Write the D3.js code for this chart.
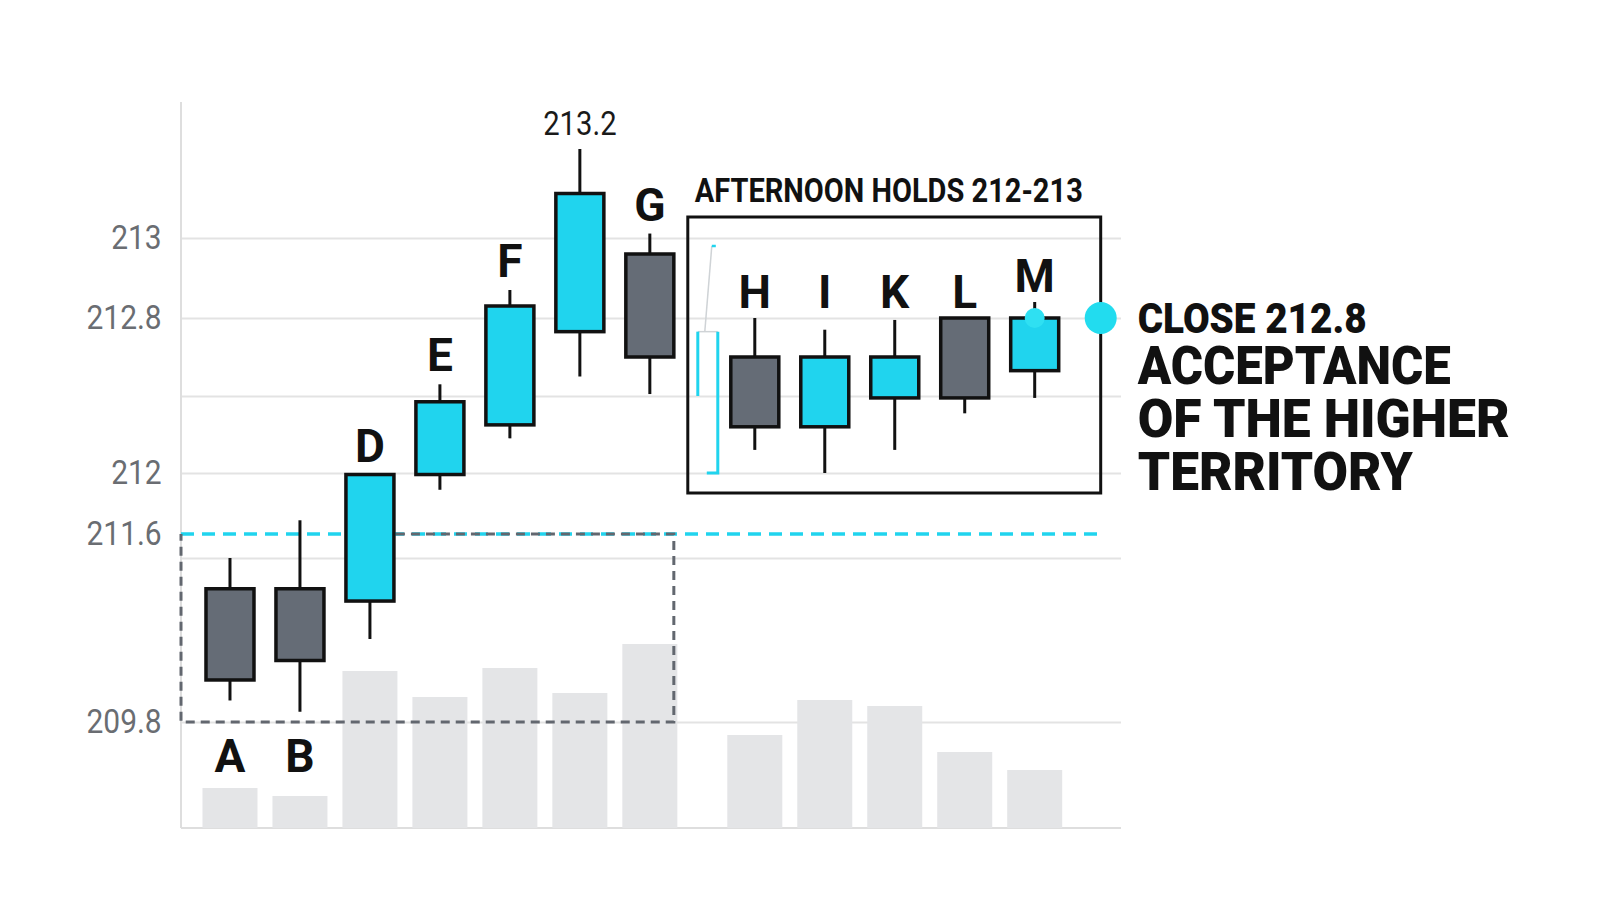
<!DOCTYPE html>
<html>
<head>
<meta charset="utf-8">
<script src="https://cdn.jsdelivr.net/npm/d3@7"></script>
<style>
  body { margin: 0; background: #fff; }
  text { font-family: Roboto, "Noto Sans", sans-serif; }
</style>
</head>
<body>
<svg id="chart" width="1600" height="914"></svg>
<script>
// candle data (minutes from open, OHLC, volume)
const labels = ["A", "B", "D", "E", "F", "", "G", "H", "I", "K", "L", "M"];
const times = [0, 30, 60, 90, 120, 150, 180, 225, 255, 285, 315, 345];
const opens = [211.10, 211.10, 210.98, 211.99, 212.25, 212.73, 212.96, 212.60, 212.24, 212.39, 212.80, 212.53];
const highs = [211.40, 211.69, 211.99, 212.46, 212.87, 213.20, 213.01, 212.80, 212.74, 212.79, 212.80, 212.84];
const lows = [210.01, 209.90, 210.61, 211.89, 212.18, 212.50, 212.41, 212.12, 212.00, 212.12, 212.31, 212.39];
const closes = [210.21, 210.40, 211.99, 212.37, 212.83, 213.10, 212.60, 212.24, 212.60, 212.60, 212.39, 212.80];
const volumes = [200, 160, 785, 655, 800, 675, 920, 465, 640, 610, 380, 290];

const priceTicks = [209.8, 211.6, 212, 212.8, 213];
const gridTicks = [209.8, 211.4, 212, 212.4, 212.8, 213];
const morningRange = [209.8, 211.6];
const afternoonRange = [212, 213];
const acceptLevel = 211.6;
const lastClose = 212.8;
const bracketLevels = [212.0, 212.4, 212.73, 212.98];
const title = "AFTERNOON HOLDS 212-213";
const noteLines = ["CLOSE 212.8", "ACCEPTANCE", "OF THE HIGHER", "TERRITORY"];

const CYAN = "#20d4ee";
const GRAY = "#656c76";
const plotLeft = 181, plotRight = 1121, plotBottom = 828, plotTop = 102;

const svg = d3.select("#chart");

const x = d3.scaleLinear().domain([-21, 382]).range([plotLeft, plotRight]);
// the picture's price axis is not evenly spaced, so the scale is piecewise
const y = d3.scaleLinear()
  .domain([209.8, 211.4, 211.6, 212, 212.4, 212.8, 213, 213.2])
  .range([722, 558, 534, 473, 396, 318, 238, 149]);
const yVol = d3.scaleLinear().domain([0, 1000]).range([plotBottom, plotBottom - 200]);

const candles = labels.map((label, i) => ({
  label, time: times[i], open: opens[i], high: highs[i], low: lows[i], close: closes[i], volume: volumes[i]
}));
const afternoon = candles.filter((d) => d.time > 200);

// grid
svg.append("g")
  .attr("transform", `translate(${plotLeft},0)`)
  .call(d3.axisLeft(y).tickValues(gridTicks).tickSize(-(plotRight - plotLeft)).tickFormat(""))
  .call((g) => g.select(".domain").remove())
  .call((g) => g.selectAll("line").attr("stroke", "#e3e3e3").attr("stroke-width", 2));

svg.append("line").attr("x1", plotLeft).attr("x2", plotLeft).attr("y1", plotTop).attr("y2", plotBottom)
  .attr("stroke", "#dedede").attr("stroke-width", 2);
svg.append("line").attr("x1", plotLeft).attr("x2", plotRight).attr("y1", plotBottom).attr("y2", plotBottom)
  .attr("stroke", "#dedede").attr("stroke-width", 2);

// price labels
svg.append("g")
  .attr("transform", `translate(${plotLeft},0)`)
  .call(d3.axisLeft(y).tickValues(priceTicks).tickSize(0).tickPadding(22).tickFormat(d3.format("")))
  .call((g) => g.select(".domain").remove())
  .call((g) => g.selectAll("text")
    .attr("font-size", 34)
    .attr("font-family", "Roboto, sans-serif")
    .attr("fill", "#6a6d72")
    .attr("transform", "scale(0.88,1)"));

// volume
svg.append("g").selectAll("rect")
  .data(candles)
  .join("rect")
  .attr("x", (d) => x(d.time) - 27.5)
  .attr("width", 55)
  .attr("y", (d) => yVol(d.volume))
  .attr("height", (d) => plotBottom - yVol(d.volume))
  .attr("fill", "#e4e5e7");

// acceptance line and morning range
const boxLeft = x(afternoon[0].time) - 67;
const boxRight = x(afternoon[afternoon.length - 1].time) + 66;
const boxTop = y(afternoonRange[1]) - 21;
const boxBottom = y(afternoonRange[0]) + 20;

svg.append("line")
  .attr("x1", plotLeft).attr("x2", boxRight + 4)
  .attr("y1", y(acceptLevel)).attr("y2", y(acceptLevel))
  .attr("stroke", CYAN).attr("stroke-width", 3.5).attr("stroke-dasharray", "13,8");

const rangeRight = x(times[6]) + 24;
const rangeTopStart = x(times[2]) + 26;
svg.append("path")
  .attr("d", `M${rangeTopStart},${y(morningRange[1])}H${rangeRight}V${y(morningRange[0])}H${plotLeft}V${y(morningRange[1])}`)
  .attr("fill", "none")
  .attr("stroke", "#62676f")
  .attr("stroke-width", 3)
  .attr("stroke-dasharray", "9,6");

// afternoon box
svg.append("rect")
  .attr("x", boxLeft).attr("y", boxTop)
  .attr("width", boxRight - boxLeft).attr("height", boxBottom - boxTop)
  .attr("fill", "none").attr("stroke", "#111").attr("stroke-width", 3);

svg.append("text")
  .attr("x", boxLeft + 7).attr("y", boxTop - 15)
  .attr("font-size", 33).attr("font-weight", 700).attr("fill", "#111")
  .attr("textLength", 388).attr("lengthAdjust", "spacingAndGlyphs")
  .text(title);

// small range bracket at the left of the box
const bx = boxLeft;
const bracket = svg.append("g").attr("fill", "none");
bracket.append("path")
  .attr("d", `M${bx + 17},${y(bracketLevels[2])}L${bx + 24},${y(bracketLevels[3])}`)
  .attr("stroke", "#cfd3d6").attr("stroke-width", 1.5);
bracket.append("path")
  .attr("d", `M${bx + 24},${y(bracketLevels[3])}h4`)
  .attr("stroke", CYAN).attr("stroke-width", 2.5);
bracket.append("path")
  .attr("d", `M${bx + 10},${y(bracketLevels[2])}H${bx + 30}`)
  .attr("stroke", "#cfd3d6").attr("stroke-width", 1.5);
bracket.append("path")
  .attr("d", `M${bx + 10},${y(bracketLevels[2])}V${y(bracketLevels[1])}`)
  .attr("stroke", CYAN).attr("stroke-width", 3);
bracket.append("path")
  .attr("d", `M${bx + 30},${y(bracketLevels[2])}V${y(bracketLevels[0])}H${bx + 19}`)
  .attr("stroke", CYAN).attr("stroke-width", 3);

// candles
const candle = svg.append("g").selectAll("g")
  .data(candles)
  .join("g");

candle.append("line")
  .attr("x1", (d) => x(d.time)).attr("x2", (d) => x(d.time))
  .attr("y1", (d) => y(d.high)).attr("y2", (d) => y(d.low))
  .attr("stroke", "#111").attr("stroke-width", 3);

candle.append("rect")
  .attr("x", (d) => x(d.time) - 24)
  .attr("width", 48)
  .attr("y", (d) => y(Math.max(d.open, d.close)))
  .attr("height", (d) => Math.abs(y(d.open) - y(d.close)))
  .attr("fill", (d) => (d.close >= d.open ? CYAN : GRAY))
  .attr("stroke", "#111").attr("stroke-width", 3.5);

// letters go under the candles whose bodies sit inside the morning range
function labelY(d) {
  if (Math.max(d.open, d.close) < acceptLevel) return y(morningRange[0]) + 50;
  if (d.time > 200) return Math.min(y(d.high), y(lastClose)) - 10;
  return y(d.high) - 13;
}

candle.filter((d) => d.label)
  .append("text")
  .attr("x", (d) => x(d.time))
  .attr("y", labelY)
  .attr("text-anchor", "middle")
  .attr("font-size", 46).attr("font-weight", 700).attr("fill", "#111")
  .text((d) => d.label);

const peak = candles.reduce((a, b) => (b.high > a.high ? b : a));
svg.append("g")
  .attr("transform", `translate(${x(peak.time)},${y(peak.high) - 14}) scale(0.86,1)`)
  .append("text")
  .attr("text-anchor", "middle")
  .attr("font-size", 34).attr("fill", "#1a1a1a")
  .text(d3.format("")(peak.high));

// close markers
const last = candles[candles.length - 1];
svg.append("circle").attr("cx", x(last.time)).attr("cy", y(last.close)).attr("r", 10).attr("fill", "#2fe0f2");
svg.append("circle").attr("cx", boxRight).attr("cy", y(last.close)).attr("r", 16).attr("fill", "#22dcef");

// note
const noteWidths = [229, 313, 372, 275];
const note = svg.append("g").attr("fill", "#111").attr("font-weight", 900);
noteLines.forEach((line, i) => {
  note.append("text")
    .attr("x", boxRight + 37)
    .attr("y", y(lastClose) + 15 + (i === 0 ? 0 : 51 + (i - 1) * 53))
    .attr("font-size", i === 0 ? 43 : 53)
    .attr("textLength", noteWidths[i]).attr("lengthAdjust", "spacingAndGlyphs")
    .text(line);
});
</script>
</body>
</html>
